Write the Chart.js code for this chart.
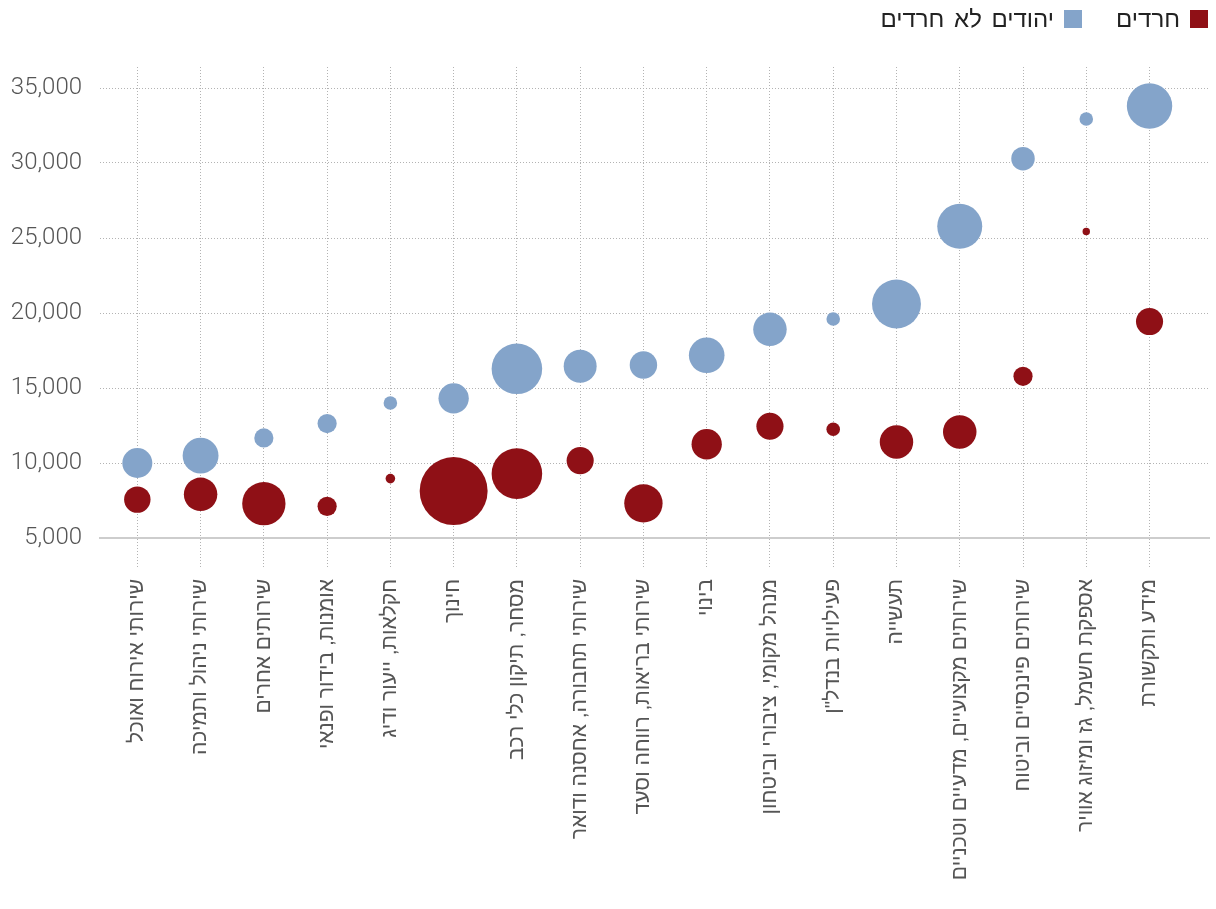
<!DOCTYPE html>
<html><head><meta charset="utf-8">
<script src="https://cdn.jsdelivr.net/npm/chart.js@4/dist/chart.umd.min.js"></script>
<style>
html,body{margin:0;padding:0;background:#fff;}
#wrap{position:relative;width:1216px;height:909px;overflow:hidden;}
#legend{position:absolute;top:10px;right:8px;height:18px;display:flex;direction:rtl;align-items:center;font-family:'Liberation Sans','DejaVu Sans',sans-serif;font-size:24px;word-spacing:3px;color:#222;}
.item{display:flex;align-items:center;margin-left:34px;}
.box{width:18px;height:18px;margin-left:10px;}
</style></head>
<body><div id="wrap"><canvas id="c" width="1216" height="909"></canvas><div id="legend"></div></div>
<script>
const categories = [
  'שירותי אירוח ואוכל',
  'שירותי ניהול ותמיכה',
  'שירותים אחרים',
  'אומנות, בידור ופנאי',
  'חקלאות, ייעור ודיג',
  'חינוך',
  'מסחר, תיקון כלי רכב',
  'שירותי תחבורה, אחסנה ודואר',
  'שירותי בריאות, רווחה וסעד',
  'בינוי',
  'מנהל מקומי, ציבורי וביטחון',
  'פעילויות בנדל"ן',
  'תעשייה',
  'שירותים מקצועיים, מדעיים וטכניים',
  'שירותים פיננסיים וביטוח',
  'אספקת חשמל, גז ומיזוג אוויר',
  'מידע ותקשורת'
];
const seriesNames = ['חרדים', 'יהודים לא חרדים'];
// average monthly wage (NIS)
const haredimWage    = [7560, 7910, 7290, 7110, 8960, 8130, 9290, 10160, 7310, 11250, 12450, 12250, 11400, 12070, 15780, 25430, 19430];
const nonHaredimWage = [10000, 10490, 11670, 12630, 14000, 14310, 16280, 16450, 16530, 17180, 18910, 19600, 20600, 25780, 30290, 32930, 33800];
// share of the group's workers in the sector (%), shown as bubble area
const haredimShare    = [3.8, 6.1, 10.2, 2.0, 0.5, 25.1, 13.9, 4.0, 8.0, 5.0, 4.0, 1.0, 6.1, 6.1, 2.0, 0.3, 4.0];
const nonHaredimShare = [4.9, 7.0, 2.0, 2.0, 1.0, 5.0, 13.9, 5.9, 4.1, 6.9, 6.1, 1.0, 13.0, 11.0, 3.0, 1.0, 11.2];
const yTickValues = [5000, 10000, 15000, 20000, 25000, 30000, 35000];
const seriesColors = ['#8f1016', '#84a4ca'];

const bubbleScale = 6.78;
function toPoints(wages, shares) {
  return wages.map((w, i) => ({ x: i, y: w, r: Math.sqrt(shares[i]) * bubbleScale }));
}

const gridColor = '#b3b3b3';
const hebFont = "'Liberation Sans', 'DejaVu Sans', sans-serif";

const chart = new Chart(document.getElementById('c'), {
  type: 'bubble',
  data: {
    datasets: [
      { label: seriesNames[0], data: toPoints(haredimWage, haredimShare), backgroundColor: seriesColors[0], borderWidth: 0, hoverBorderWidth: 0 },
      { label: seriesNames[1], data: toPoints(nonHaredimWage, nonHaredimShare), backgroundColor: seriesColors[1], borderWidth: 0, hoverBorderWidth: 0 }
    ]
  },
  options: {
    responsive: false,
    animation: false,
    devicePixelRatio: 1,
    layout: { autoPadding: false, padding: { top: 67, right: 7, bottom: 0, left: 0 } },
    plugins: { legend: { display: false }, tooltip: { enabled: false } },
    scales: {
      x: {
        type: 'linear',
        min: -0.59,
        max: 16.94,
        afterBuildTicks: s => { s.ticks = categories.map((_, i) => ({ value: i })); },
        afterFit: s => { s.height = 371; s.paddingLeft = 0; s.paddingRight = 0; },
        ticks: {
          autoSkip: false,
          minRotation: 90,
          maxRotation: 90,
          padding: 10,
          color: '#555',
          font: { family: hebFont, size: 21 },
          callback: v => categories[v]
        },
        grid: { color: gridColor, lineWidth: 1, drawTicks: true, tickLength: 31, tickColor: gridColor, tickBorderDash: [1, 2] },
        border: { display: true, color: '#cdcdcd', width: 2, dash: [1, 2] }
      },
      y: {
        type: 'linear',
        min: 5000,
        max: 36400,
        afterBuildTicks: s => { s.ticks = yTickValues.map(v => ({ value: v })); },
        afterFit: s => { s.width = 100; },
        ticks: {
          padding: 18,
          color: '#555',
          font: { family: 'Roboto', size: 24, weight: '300' },
          callback: v => v.toLocaleString('en-US')
        },
        grid: { color: gridColor, lineWidth: 1, drawTicks: false },
        border: { display: false, dash: [1, 2] }
      }
    }
  }
});

const legend = document.getElementById('legend');
chart.data.datasets.forEach(ds => {
  const item = document.createElement('div');
  item.className = 'item';
  const box = document.createElement('span');
  box.className = 'box';
  box.style.background = ds.backgroundColor;
  const txt = document.createElement('span');
  txt.textContent = ds.label;
  item.appendChild(box);
  item.appendChild(txt);
  legend.appendChild(item);
});
</script>
</body></html>
